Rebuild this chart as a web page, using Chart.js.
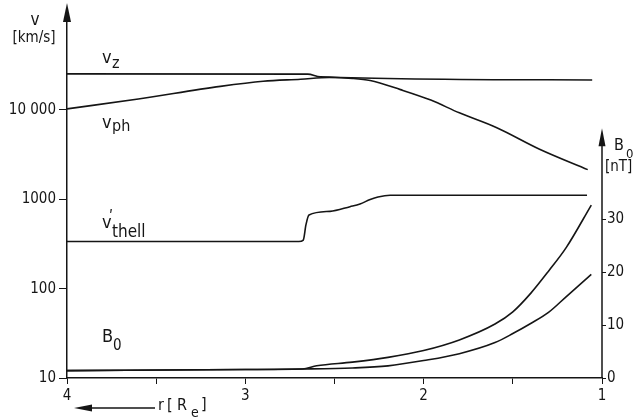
<!DOCTYPE html>
<html lang="de">
<head>
<meta charset="UTF-8">
<title>v und B0 über r</title>
<script src="https://cdn.jsdelivr.net/npm/chart.js"></script>
<style>
    html, body { margin: 0; padding: 0; background: #fff; }
    .wrap { width: 643px; height: 420px; }
</style>
</head>
<body>
<div class="wrap"><canvas id="chart" width="643" height="420"></canvas></div>
<script>
    // r in Erdradien, Geschwindigkeiten in km/s
    const rVz = [4.0, 2.65, 2.58, 1.055];
    const vZ = [25400, 25200, 23600, 21700];

    const rPh = [4.0, 3.6, 3.14, 2.9, 2.69, 2.53, 2.4, 2.3, 2.13, 1.96, 1.8, 1.59, 1.35, 1.08];
    const vPh = [10280, 13300, 18400, 21000, 22100, 23100, 22600, 21400, 16900, 12900, 9290, 6340, 3640, 2150];

    const rThell = [4.0, 2.70, 2.675, 2.66, 2.643, 2.525, 2.413, 2.357, 2.30, 2.256, 2.188, 1.084];
    const vThell = [337, 337, 350, 520, 667, 733, 828, 887, 995, 1062, 1110, 1110];

    // B0 in nT (rechte Achse)
    const rBUp = [4.0, 3.0, 2.68, 2.6, 2.4, 2.2, 2.0, 1.8, 1.6, 1.5, 1.4, 1.3, 1.2, 1.06];
    const bUp = [1.4, 1.6, 1.7, 2.3, 3.0, 3.9, 5.2, 7.2, 10.2, 12.5, 16.0, 20.2, 24.7, 32.7];
    const rBLow = [4.0, 3.0, 2.68, 2.4, 2.2, 2.0, 1.8, 1.6, 1.5, 1.4, 1.3, 1.2, 1.06];
    const bLow = [1.4, 1.6, 1.7, 1.9, 2.3, 3.3, 4.6, 6.7, 8.4, 10.3, 12.4, 15.4, 19.6];

    // Achsenteilung
    const rTicks = [4, 3.5, 3, 2.5, 2, 1.5, 1];
    const vTicks = [10, 100, 1000, 10000];
    const bTicks = [0, 10, 20, 30];

    const ink = '#151515';
    const family = '"Liberation Sans Narrow", "DejaVu Sans Condensed", "DejaVu Sans", sans-serif';
    const tickFont = { family: family, size: 15 };

    function pts(xs, ys) {
        return xs.map((x, i) => ({ x: x, y: ys[i] }));
    }

    function line(xs, ys, axis) {
        return { data: pts(xs, ys), yAxisID: axis };
    }

    // Pfeile und Beschriftungen
    const decor = {
        id: 'decor',
        afterDraw(chart) {
            const ctx = chart.ctx;
            const a = chart.chartArea;
            ctx.save();
            ctx.fillStyle = ink;
            ctx.strokeStyle = ink;
            ctx.lineWidth = 1.5;

            function head(x, y, dx, dy, len, half) {
                // Spitze bei (x, y), Richtung (dx, dy)
                ctx.beginPath();
                ctx.moveTo(x, y);
                ctx.lineTo(x - dx * len - dy * half, y - dy * len + dx * half);
                ctx.lineTo(x - dx * len + dy * half, y - dy * len - dx * half);
                ctx.closePath();
                ctx.fill();
            }

            // linke Achse nach oben verlängert
            ctx.beginPath();
            ctx.moveTo(a.left, a.top);
            ctx.lineTo(a.left, 10);
            ctx.stroke();
            head(a.left, 3, 0, -1, 19, 4);

            // rechte Achse (B0) nur bis zur Pfeilspitze
            const yB = chart.scales.y2;
            ctx.beginPath();
            ctx.moveTo(a.right, a.bottom);
            ctx.lineTo(a.right, yB.getPixelForValue(44));
            ctx.stroke();
            head(a.right, yB.getPixelForValue(47.2), 0, -1, 18, 3.5);

            // Richtungspfeil unter der r-Achse
            ctx.beginPath();
            ctx.moveTo(155, 408);
            ctx.lineTo(88, 408);
            ctx.stroke();
            head(74, 408, -1, 0, 18, 3.5);

            function txt(s, x, y, size) {
                ctx.font = size + 'px ' + family;
                ctx.textAlign = 'left';
                ctx.textBaseline = 'alphabetic';
                ctx.fillText(s, x, y);
            }

            ctx.textAlign = 'center';
            ctx.font = '17px ' + family;
            ctx.fillText('v', 35, 25);
            ctx.font = '15px ' + family;
            ctx.fillText('[km/s]', 34, 42);

            txt('v', 102, 63, 18);
            txt('z', 112, 68, 16);

            txt('v', 102, 128, 18);
            txt('ph', 112, 131, 16);

            txt('v', 102, 228, 18);
            txt('\u02b9', 109, 222, 16);
            txt('thell', 112, 237, 17);

            txt('B', 102, 342, 18);
            txt('0', 113, 350, 15);

            txt('B', 614, 150, 16);
            txt('0', 626, 158, 13);
            txt('[nT]', 605, 171, 15);

            txt('r', 158, 410, 16);
            txt('[', 167, 410, 16);
            txt('R', 177, 410, 16);
            txt('e', 191, 417, 14);
            txt(']', 201, 409, 16);

            ctx.restore();
        }
    };

    new Chart(document.getElementById('chart'), {
        type: 'line',
        data: {
            datasets: [
                line(rVz, vZ, 'y'),
                line(rPh, vPh, 'y'),
                line(rThell, vThell, 'y'),
                line(rBUp, bUp, 'y2'),
                line(rBLow, bLow, 'y2')
            ]
        },
        options: {
            responsive: false,
            animation: false,
            layout: { padding: { top: 8, left: 0, right: 0, bottom: 0 } },
            elements: {
                point: { radius: 0 },
                line: { borderColor: ink, borderWidth: 1.6, cubicInterpolationMode: 'monotone', fill: false }
            },
            plugins: { legend: { display: false }, tooltip: { enabled: false } },
            scales: {
                x: {
                    type: 'linear',
                    reverse: true,
                    min: 1,
                    max: 4,
                    afterBuildTicks: s => { s.ticks = rTicks.map(v => ({ value: v })); },
                    afterFit: s => { s.height = 42; },
                    ticks: {
                        callback: v => Number.isInteger(v) ? String(v) : '',
                        font: tickFont, color: ink, padding: 3, maxRotation: 0, autoSkip: false
                    },
                    grid: { drawOnChartArea: false, tickLength: 6, color: ink, tickColor: ink },
                    border: { color: ink, width: 1.5 }
                },
                y: {
                    type: 'logarithmic',
                    position: 'left',
                    min: 10,
                    max: 125000,
                    afterBuildTicks: s => { s.ticks = vTicks.map(v => ({ value: v })); },
                    afterFit: s => { s.width = 67; },
                    ticks: {
                        callback: v => v === 10000 ? '10 000' : String(v),
                        font: tickFont, color: ink, padding: 3
                    },
                    grid: { drawOnChartArea: false, tickLength: 8, color: ink, tickColor: ink },
                    border: { color: ink, width: 1.5 }
                },
                y2: {
                    type: 'linear',
                    position: 'right',
                    min: 0,
                    max: 69.2,
                    afterBuildTicks: s => { s.ticks = bTicks.map(v => ({ value: v })); },
                    afterFit: s => { s.width = 41; },
                    ticks: { font: tickFont, color: ink, padding: 1 },
                    grid: { drawOnChartArea: false, tickLength: 4, color: ink, tickColor: ink },
                    border: { display: false }
                }
            }
        },
        plugins: [decor]
    });
</script>
</body>
</html>
